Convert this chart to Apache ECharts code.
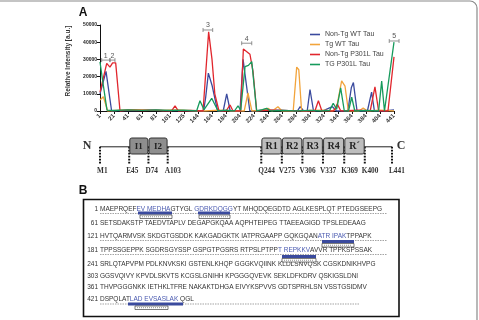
<!DOCTYPE html>
<html>
<head>
<meta charset="utf-8">
<script src="https://cdn.jsdelivr.net/npm/echarts@6/dist/echarts.min.js"></script>
<style>
  html, body { margin: 0; padding: 0; background: #fff; }
  #chart { width: 479px; height: 320px; }
</style>
</head>
<body>
<div id="chart"></div>
<script>
// x positions are tick indexes (0 = residue 1, 21 = residue 441)
const tickLabels = ["1", "21", "41", "61", "81", "101", "125", "144", "164", "184", "204",
  "224", "244", "264", "284", "304", "324", "344", "364", "384", "404", "441"];

const seriesNames = ["Non-Tg WT Tau", "Tg WT Tau", "Non-Tg P301L Tau", "TG P301L Tau"];
const seriesColors = ["#3a4a9e", "#f2a43c", "#e1262d", "#169a5c"];

const nonTgWt = [[0, 10000], [0.43, 23000], [0.83, 0], [1.5, 400], [2.5, 300], [3.5, 500], [4.5, 200],
  [5.5, 400], [6.5, 100], [7.4, 0], [7.55, 8000], [7.74, 22000], [8.0, 15000], [8.4, 0], [8.8, 0],
  [9.05, 10000], [9.3, 0], [10.0, 0], [10.22, 30000], [10.7, 0], [11.5, 300], [12.5, 500], [13.5, 200],
  [14.1, 0], [14.3, 2500], [14.55, 0], [14.8, 0], [15.0, 12500], [15.25, 0], [16.0, 400], [16.6, 2500],
  [16.9, 0], [17.7, 0], [17.95, 13500], [18.1, 16500], [18.36, 0], [19.1, 0], [19.4, 11000], [19.6, 0],
  [20.3, 0], [21, 600]];
const tgWt = [[0, 6400], [0.24, 8300], [0.55, 0], [1.5, 500], [2.5, 800], [3.5, 500], [4.5, 300],
  [5.5, 600], [6.5, 200], [7.5, 0], [8.5, 500], [9.5, 0], [10.3, 0], [10.57, 10500], [10.85, 0],
  [11.5, 400], [12.0, 1500], [12.3, 0], [12.71, 2500], [13.0, 0], [13.8, 0], [14.05, 25500],
  [14.2, 24000], [14.4, 0], [15, 300], [16, 500], [16.6, 0], [16.9, 2000], [17.26, 17500],
  [17.5, 14500], [17.74, 0], [18.5, 0], [18.8, 1800], [19.1, 0], [20, 500], [21, 0]];
const nonTgP301l = [[0, 11000], [0.48, 27700], [0.71, 25500], [0.9, 28000], [1.12, 28000], [1.43, 0],
  [2, 500], [3, 300], [4, 500], [5.1, 0], [5.36, 3000], [5.6, 0], [6.5, 300], [7.36, 0], [7.76, 46000],
  [8.0, 30000], [8.2, 10000], [8.5, 0], [9.0, 0], [9.29, 3500], [9.5, 0], [10.05, 0], [10.24, 36000],
  [10.71, 33000], [10.93, 23000], [11.19, 0], [12, 500], [13, 300], [14, 0], [15.35, 0], [15.6, 6000],
  [15.85, 0], [16.7, 0], [16.95, 4000], [17.2, 0], [18.5, 500], [19.3, 0], [19.64, 14000], [19.9, 0],
  [20.57, 0], [21, 31500]];
const tgP301l = [[0, 28500], [0.2, 17000], [0.5, 500], [1, 300], [2, 600], [3, 400], [4, 700], [5, 300],
  [6, 500], [6.9, 0], [7.14, 6000], [7.43, 800], [7.98, 7400], [8.43, 0], [9.0, 500], [9.6, 0],
  [9.86, 3000], [10.05, 500], [10.36, 25800], [10.6, 26500], [10.84, 28700], [11.19, 0], [11.6, 800],
  [11.9, 1500], [12.2, 0], [13, 300], [14, 0], [15, 400], [15.8, 0], [16.4, 300], [16.66, 4500],
  [16.9, 1000], [17.19, 13500], [17.45, 0], [17.75, 0], [17.98, 8000], [18.2, 0], [19.0, 300],
  [19.9, 0], [20.12, 17400], [20.32, 0], [21, 40000]];

// numbered peptide brackets above the peaks
const bracketNames = ["1", "2", "3", "4", "5"];
const bracketStart = [0.12, 0.71, 7.36, 10.12, 20.66];
const bracketEnd = [0.71, 1.07, 8.05, 10.84, 21.36];
const bracketLevel = [29600, 29600, 47100, 39400, 40700];

// tau domain map (residue numbers)
const domainNames = ["I1", "I2", "R1", "R2", "R3", "R4", "R\u00b4"];
const domainStart = [45, 74, 244, 275, 306, 337, 369];
const domainEnd = [74, 103, 275, 306, 337, 369, 400];
const markerResidues = [1, 45, 74, 103, 244, 275, 306, 337, 369, 400, 441];
const markerNames = ["M1", "E45", "D74", "A103", "Q244", "V275", "V306", "V337", "K369", "K400", "L441"];

// panel B sequence, [..] = highlighted peptide
const rowNumbers = ["1", "61", "121", "181", "241", "303", "361", "421"];
const seqRows = [
  "MAEPRQEF[EV MEDHA]GTYGL [GDRKDQGG]YT MHQDQEGDTD AGLKESPLQT PTEDGSEEPG",
  "SETSDAKSTP TAEDVTAPLV DEGAPGKQAA AQPHTEIPEG TTAEEAGIGD TPSLEDEAAG",
  "HVTQARMVSK SKDGTGSDDK KAKGADGKTK IATPRGAAPP GQKGQAN[ATR IPAK]TPPAPK",
  "TPPSSGEPPK SGDRSGYSSP GSPGTPGSRS RTPSLPTPP[T REPKKV]AVVR TPPKSPSSAK",
  "SRLQTAPVPM PDLKNVKSKI GSTENLKHQP GGGKVQIINK KLDLSNVQSK CGSKDNIKHVPG",
  "GGSVQIVY KPVDLSKVTS KCGSLGNIHH KPGGGQVEVK SEKLDFKDRV QSKIGSLDNI",
  "THVPGGGNKK IETHKLTFRE NAKAKTDHGA EIVYKSPVVS GDTSPRHLSN VSSTGSIDMV",
  "DSPQLAT[LAD EVSASLAK] QGL"
];
const rowY = [209, 223, 236, 250, 264, 276, 287.5, 299.5];
const dashedRows = [0, 2, 3, 7];

const blue = "#3a4a9e";
const serif = "'Liberation Serif', 'DejaVu Serif', serif";
const sans = "'Liberation Sans', Arial, sans-serif";

function richRow(str) {
  return str.replace(/\[([^\]]+)\]/g, "}{h|$1}{k|").replace(/^/, "{k|").replace(/$/, "}");
}

const chart = echarts.init(document.getElementById("chart"));

const lineSeries = [nonTgWt, tgWt, nonTgP301l, tgP301l].map((data, i) => ({
  name: seriesNames[i],
  type: "line",
  xAxisIndex: 0,
  yAxisIndex: 0,
  data,
  symbol: "none",
  smooth: false,
  lineStyle: { width: 1.3, color: seriesColors[i] },
  itemStyle: { color: seriesColors[i] },
  z: 3 + i,
}));

const graphics = [
  { type: "rect", shape: { x: -10, y: 1, width: 487, height: 340, r: 7 },
    style: { fill: "none", stroke: "#8a8a8a", lineWidth: 1.2 }, silent: true },
  { type: "text", x: 83, y: 13, style: { text: "A", font: "bold 12px " + sans, fill: "#111", align: "center", verticalAlign: "middle" } },
  { type: "text", x: 87, y: 146, style: { text: "N", font: "bold 12px " + serif, fill: "#333", align: "center", verticalAlign: "middle" } },
  { type: "text", x: 401, y: 146, style: { text: "C", font: "bold 12px " + serif, fill: "#333", align: "center", verticalAlign: "middle" } },
  { type: "text", x: 83, y: 191, style: { text: "B", font: "bold 12px " + sans, fill: "#111", align: "center", verticalAlign: "middle" } },
  { type: "rect", shape: { x: 83.5, y: 199.5, width: 315.5, height: 117 },
    style: { fill: "#fff", stroke: "#111", lineWidth: 1.6 } },
];

seqRows.forEach((row, i) => {
  graphics.push({ type: "text", x: 98, y: rowY[i], z: 10,
    style: { text: rowNumbers[i], font: "6.5px " + sans, fill: "#333", align: "right", verticalAlign: "middle" } });
  graphics.push({ type: "text", x: 100, y: rowY[i], z: 10,
    style: { text: richRow(row), font: "6.5px " + sans, fill: "#333", verticalAlign: "middle",
      rich: { k: { fill: "#333", font: "6.5px " + sans }, h: { fill: "#4a5ab0", font: "6.5px " + sans } } } });
});
dashedRows.forEach((r) => {
  const end = r === 7 ? 360 : 387;
  graphics.push({ type: "line", z: 9, shape: { x1: 100, y1: rowY[r] + 4.5, x2: end, y2: rowY[r] + 4.5 },
    style: { stroke: "#666", lineWidth: 0.6, lineDash: [1.5, 1] } });
});

// peptide coverage bars: [x1, x2, barTop, boxX1, boxX2]
const covBars = [[138, 172, 211.5, 140, 172], [198, 230, 211.5, 199, 230], [322, 354, 240, 322, 354],
  [282, 316, 255, 282, 316], [128, 183, 302.5, 135, 168]];
covBars.forEach((b) => {
  graphics.push({ type: "rect", z: 11, shape: { x: b[0], y: b[2], width: b[1] - b[0], height: 3 },
    style: { fill: blue } });
  graphics.push({ type: "rect", z: 11, shape: { x: b[3], y: b[2] + 3.5, width: b[4] - b[3], height: 3.5 },
    style: { fill: "#fff", stroke: "#222", lineWidth: 0.6 } });
  graphics.push({ type: "line", z: 12, shape: { x1: b[3] + 2, y1: b[2] + 5.25, x2: b[4] - 2, y2: b[2] + 5.25 },
    style: { stroke: "#777", lineWidth: 0.8, lineDash: [1, 1] } });
});

chart.setOption({
  animation: false,
  backgroundColor: "#fff",
  textStyle: { fontFamily: sans },
  grid: [
    { left: 100, right: 85, top: 25, bottom: 209 },
    { left: 100, width: 292, top: 138, height: 16 },
  ],
  legend: {
    data: seriesNames,
    orient: "vertical",
    left: 305,
    top: 26,
    itemWidth: 10,
    itemHeight: 7,
    itemGap: 3,
    icon: "path://M0,3 L10,3 L10,4.6 L0,4.6 Z",
    textStyle: { fontSize: 7, color: "#444", fontFamily: sans },
  },
  xAxis: [
    {
      type: "value",
      gridIndex: 0,
      min: 0,
      max: 21,
      interval: 1,
      axisLine: { lineStyle: { color: "#111", width: 1 } },
      axisTick: { length: 3, lineStyle: { color: "#111" } },
      splitLine: { show: false },
      axisLabel: {
        rotate: 45,
        fontSize: 6,
        fontWeight: "bold",
        color: "#333",
        margin: 4,
        formatter: (v) => tickLabels[Math.round(v)] ?? "",
      },
    },
    { type: "value", gridIndex: 1, min: 1, max: 441, show: false },
  ],
  yAxis: [
    {
      type: "value",
      gridIndex: 0,
      min: 0,
      max: 50000,
      interval: 10000,
      name: "Relative Intensity [a.u.]",
      nameLocation: "middle",
      nameGap: 25,
      nameTextStyle: { fontSize: 6.5, fontWeight: "bold", color: "#333", padding: [0, 0, 0, 14] },
      axisLine: { show: true, lineStyle: { color: "#111", width: 1 } },
      axisTick: { show: true, length: 3, lineStyle: { color: "#111" } },
      splitLine: { show: false },
      axisLabel: { fontSize: 5, fontWeight: "bold", color: "#222", margin: 3, formatter: (v) => String(v) },
    },
    { type: "value", gridIndex: 1, min: 0, max: 1, show: false },
  ],
  series: [
    ...lineSeries,
    {
      type: "custom",
      xAxisIndex: 0,
      yAxisIndex: 0,
      clip: false,
      silent: true,
      z: 8,
      encode: { x: [0, 1], y: 2 },
      data: bracketStart.map((s, i) => [s, bracketEnd[i], bracketLevel[i]]),
      renderItem: (params, api) => {
        const a = api.coord([api.value(0), api.value(2)]);
        const b = api.coord([api.value(1), api.value(2)]);
        const st = { stroke: "#777", lineWidth: 0.8 };
        return {
          type: "group",
          children: [
            { type: "line", shape: { x1: a[0], y1: a[1], x2: b[0], y2: b[1] }, style: st },
            { type: "line", shape: { x1: a[0], y1: a[1] - 2, x2: a[0], y2: a[1] + 2 }, style: st },
            { type: "line", shape: { x1: b[0], y1: b[1] - 2, x2: b[0], y2: b[1] + 2 }, style: st },
            { type: "text", style: { text: bracketNames[params.dataIndex], x: (a[0] + b[0]) / 2, y: a[1] - 1,
              align: "center", verticalAlign: "bottom", font: "7px " + sans, fill: "#555" } },
          ],
        };
      },
    },
    {
      // backbone line of the domain map
      type: "line",
      xAxisIndex: 1,
      yAxisIndex: 1,
      data: [[1, 0.45], [441, 0.45]],
      symbol: "none",
      silent: true,
      lineStyle: { color: "#222", width: 1 },
      z: 2,
    },
    {
      type: "custom",
      xAxisIndex: 1,
      yAxisIndex: 1,
      clip: false,
      silent: true,
      z: 2,
      data: markerResidues.map((r) => [r]),
      encode: { x: 0 },
      renderItem: (params, api) => {
        const p = api.coord([api.value(0), 0.45]);
        return {
          type: "group",
          children: [
            { type: "line", shape: { x1: p[0], y1: p[1], x2: p[0], y2: 163.5 },
              style: { stroke: "#111", lineWidth: 2, lineDash: [1.6, 1.4] } },
            { type: "text", style: { text: markerNames[params.dataIndex], x: p[0] - 3, y: 171,
              align: "left", verticalAlign: "middle", font: "bold 7.3px " + serif, fill: "#333" } },
          ],
        };
      },
    },
    {
      type: "custom",
      xAxisIndex: 1,
      yAxisIndex: 1,
      clip: false,
      silent: true,
      z: 5,
      data: domainStart.map((s, i) => [s, domainEnd[i]]),
      encode: { x: [0, 1] },
      renderItem: (params, api) => {
        const a = api.coord([api.value(0), 1]);
        const b = api.coord([api.value(1), 0]);
        const isI = domainNames[params.dataIndex].startsWith("I");
        return {
          type: "group",
          children: [
            { type: "rect", shape: { x: a[0] + 0.6, y: a[1], width: b[0] - a[0] - 1.2, height: b[1] - a[1], r: 2 },
              style: { fill: isI ? "#8e8e8e" : "#bdbdbd", stroke: "#333", lineWidth: 1 } },
            { type: "text", style: { text: domainNames[params.dataIndex], x: (a[0] + b[0]) / 2, y: (a[1] + b[1]) / 2 + 0.5,
              align: "center", verticalAlign: "middle", font: "bold " + (isI ? 9 : 10) + "px " + serif, fill: "#222" } },
          ],
        };
      },
    },
  ],
  graphic: graphics,
});
</script>
</body>
</html>
